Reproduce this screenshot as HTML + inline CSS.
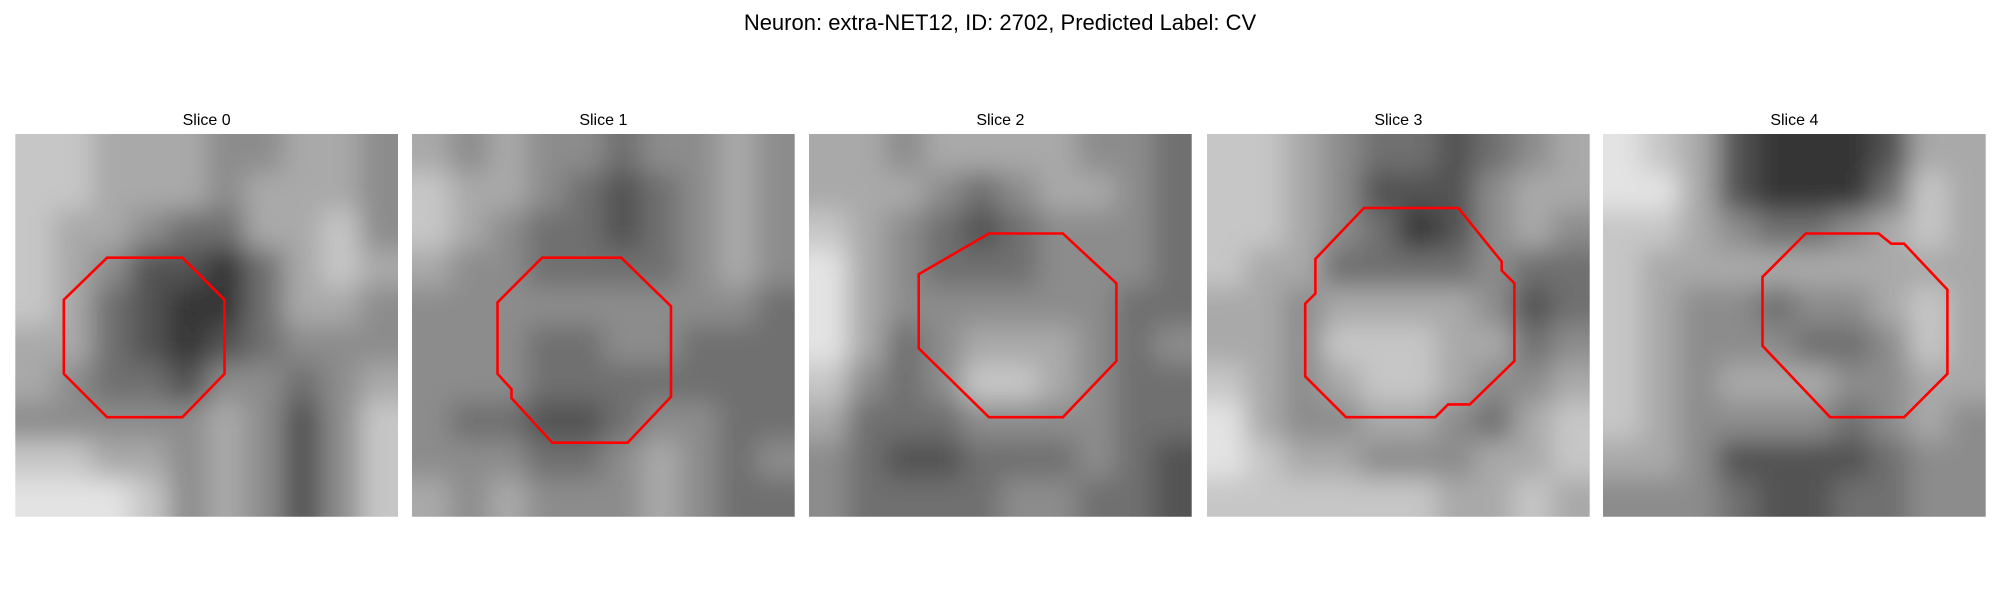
<!DOCTYPE html>
<html><head><meta charset="utf-8">
<style>
html,body{margin:0;padding:0;background:#fff;}
svg{display:block;font-family:"Liberation Sans","DejaVu Sans",sans-serif;}
</style></head>
<body>
<svg id="fig" width="2000" height="600" viewBox="0 0 2000 600">
<text x="1000" y="30" text-anchor="middle" font-size="22" fill="#000">Neuron: extra-NET12, ID: 2702, Predicted Label: CV</text>
<defs><filter id="bl" x="-10%" y="-10%" width="120%" height="120%"><feGaussianBlur stdDeviation="13"/></filter></defs>
<g id="panels"></g>
</svg>
<script>
const sliceTitles = ["Slice 0","Slice 1","Slice 2","Slice 3","Slice 4"];
const grid0 = [[7,7,6,6,6,5,5,6,6,5],[7,7,6,6,6,5,6,6,6,5],[7,6,6,5,4,4,6,6,7,5],[7,6,5,3,3,2,4,6,7,6],[7,6,4,3,2,2,4,6,6,5],[6,6,4,3,2,3,4,5,5,5],[6,5,4,4,3,5,5,4,5,6],[5,5,5,5,5,6,5,3,5,7],[7,7,6,6,5,6,5,3,5,7],[8,8,8,7,5,6,5,3,5,7]];
const grid1 = [[6,5,6,5,5,4,5,5,6,5],[7,6,6,5,4,3,4,5,6,5],[7,6,5,4,4,3,4,5,6,5],[6,5,5,4,4,4,4,5,6,5],[5,5,5,5,5,5,5,5,5,4],[5,5,5,4,4,5,5,4,4,4],[5,5,5,4,4,4,4,4,4,4],[5,4,4,3,3,4,5,5,4,4],[5,5,5,4,4,5,6,5,4,5],[6,5,6,5,5,5,6,5,4,4]];
const grid2 = [[6,6,5,6,6,6,6,5,5,4],[6,6,6,5,4,5,6,6,5,4],[7,6,5,4,3,4,5,5,5,4],[8,6,5,4,4,4,5,5,5,4],[8,6,5,5,5,5,5,5,4,4],[8,6,4,5,6,6,6,5,4,5],[7,5,4,5,7,7,6,5,4,4],[6,4,4,4,5,5,5,5,4,4],[5,4,3,3,4,4,4,5,4,3],[5,4,4,4,4,5,5,4,4,3]];
const grid3 = [[7,7,6,5,4,4,3,4,5,6],[7,7,6,5,3,3,3,5,6,6],[7,7,6,5,4,2,3,5,6,5],[7,6,6,4,4,4,4,5,4,4],[6,6,5,6,6,6,6,5,3,4],[6,6,5,7,7,7,6,6,4,5],[7,6,5,6,7,7,6,5,5,6],[8,6,5,5,6,6,5,4,6,7],[8,7,6,6,5,5,5,6,6,7],[7,7,7,7,7,7,6,6,7,6]];
const grid4 = [[8,7,6,3,2,2,2,3,6,6],[8,8,6,3,2,2,2,4,7,6],[7,7,6,5,4,4,5,6,7,6],[7,6,6,6,6,6,6,6,6,6],[7,6,5,5,4,5,5,6,7,6],[7,6,5,5,5,4,4,5,7,6],[7,6,5,6,6,6,5,5,6,6],[7,6,5,5,5,5,4,5,6,5],[6,6,5,3,3,3,3,4,5,5],[5,5,5,4,3,3,4,4,5,5]];
const poly0 = [[7.2,9.7],[13.1,9.7],[16.4,13],[16.4,18.8],[13.1,22.2],[7.2,22.2],[3.8,18.8],[3.8,13]];
const poly1 = [[10.2,9.7],[16.4,9.7],[20.3,13.5],[20.3,20.6],[16.9,24.2],[11,24.2],[7.8,20.7],[7.8,20],[6.7,18.8],[6.7,13.2]];
const poly2 = [[14.1,7.8],[19.9,7.8],[24.1,11.7],[24.1,17.8],[19.9,22.2],[14.1,22.2],[8.6,16.8],[8.6,11]];
const poly3 = [[12.3,5.8],[19.7,5.8],[23.1,10],[23.1,10.7],[24.1,11.7],[24.1,17.8],[20.6,21.2],[18.9,21.2],[17.9,22.2],[10.9,22.2],[7.7,19],[7.7,13.3],[8.5,12.5],[8.5,9.8]];
const poly4 = [[15.9,7.8],[21.6,7.8],[22.6,8.6],[23.6,8.6],[27,12.2],[27,18.8],[23.6,22.2],[17.8,22.2],[12.5,16.6],[12.5,11.2]];

const grids=[grid0,grid1,grid2,grid3,grid4];
const polys=[poly0,poly1,poly2,poly3,poly4];
const NS="http://www.w3.org/2000/svg";
const root=document.getElementById('panels');
const x0s=[15.3,412,809,1207,1603], topY=134, size=382.7, npix=30;
const defs=document.querySelector('defs');
function mk(t,a,p){const e=document.createElementNS(NS,t);for(const k in a)e.setAttribute(k,a[k]);p.appendChild(e);return e;}
grids.forEach((g,i)=>{
  const x0=x0s[i];
  const cp=mk('clipPath',{id:'cp'+i},defs);
  mk('rect',{x:x0,y:topY,width:size,height:size},cp);
  const panel=mk('g',{},root);
  
  
  const t=mk('text',{x:x0+size/2,y:topY-9,'text-anchor':'middle','font-size':'16',fill:'#000'},panel);
  t.textContent=sliceTitles[i];
  
  
  const img=mk('g',{'clip-path':'url(#cp'+i+')'},panel);
  
  
  const bg=mk('g',{filter:'url(#bl)'},img);
  const n=g.length, c=size/n;
  for(let r=0;r<n;r++)for(let k=0;k<n;k++){
    const v=Math.max(0,Math.min(255,Math.round(g[r][k]*29-5)));
    const rx=x0+k*c-(k===0?30:0), ry=topY+r*c-(r===0?30:0);
    const cell=mk('rect',{x:rx,y:ry,width:c+(k===0||k===n-1?30:0)+0.6,height:c+(r===0||r===n-1?30:0)+0.6,fill:`rgb(${v},${v},${v})`},bg);
    
    
  }
  const px=size/npix;
  const pts=polys[i].map(p=>(x0+p[0]*px).toFixed(1)+','+(topY+p[1]*px).toFixed(1)).join(' ');
  const pl=mk('polygon',{points:pts,fill:'none',stroke:'#ff0000','stroke-width':'2.6','stroke-linejoin':'miter'},panel);
  
  
});
</script>
</body></html>
